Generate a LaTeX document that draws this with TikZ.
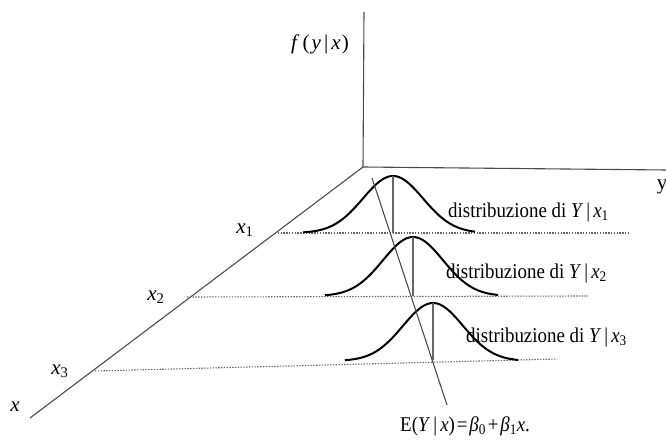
\documentclass[tikz,border=0pt]{standalone}
\usepackage{graphicx}
\usepackage{fontspec}
\setmainfont{Liberation Serif}
\newcommand{\narrowtxt}[1]{\scalebox{0.9}[1]{#1}}
\begin{document}
\begin{tikzpicture}[x=1pt,y=-1pt,
  axis/.style={draw=black!70,line width=1.1pt},
  guide/.style={draw=black!60,line width=1.1pt,dash pattern=on 1.4pt off 1.4pt},
  bell/.style={draw=black,line width=2pt},
  mean/.style={draw=black!60,line width=1.1pt},
  lbl/.style={inner sep=0pt,font=\fontsize{21}{24}\selectfont},
  ]
\useasboundingbox (0,0) rectangle (666,443);
% axes
\coordinate (O) at (363,167);
\coordinate (ztop) at (364,12);
\coordinate (yend) at (666,170);
\coordinate (xend) at (30,418);
\draw[axis] (ztop) -- (O) -- (yend);
\draw[axis] (O) -- (xend);
% guide lines
\coordinate (g1a) at (275,233); \coordinate (g1b) at (628,233);
\coordinate (g2a) at (187,297); \coordinate (g2b) at (588,296);
\coordinate (g3a) at (95,371);  \coordinate (g3b) at (557,359);
\draw[guide] (g1a) -- (g1b);
\draw[guide] (g2a) -- (g2b);
\draw[guide] (g3a) -- (g3b);
% bells
\draw[bell] plot[domain=-90:82,samples=80,smooth] ({393+\x},{233-57*exp(-\x*\x/(2*30*30))});
\draw[bell] plot[domain=-88:85,samples=80,smooth] ({413+\x},{296-59*exp(-\x*\x/(2*30*30))});
\draw[bell] plot[domain=-88:85,samples=80,smooth] ({433+\x},{361-58*exp(-\x*\x/(2*30*30))});
% mean verticals
\coordinate (p1) at (393,176); \coordinate (b1) at (393,233);
\coordinate (p2) at (413,237); \coordinate (b2) at (413,296);
\coordinate (p3) at (433,303); \coordinate (b3) at (433,360);
\draw[mean] (p1) -- (b1);
\draw[mean] (p2) -- (b2);
\draw[mean] (p3) -- (b3);
% regression line
\coordinate (r1) at (372,178);
\coordinate (r2) at (447,405);
\draw[mean,draw=black!70] (r1) -- (r2);
% labels
\node[lbl] (fl) at (320,44) {\textit{f}\hspace{0.15em}(\hspace{0.1em}\textit{y}\hspace{0.15em}|\hspace{0.15em}\textit{x}\hspace{0.05em})};
\node[lbl] (yl) at (662,187) {y};
\node[lbl] (xl) at (15,407) {\textit{x}};
\node[lbl] (x1) at (245,230) {\textit{x}\textsubscript{1}};
\node[lbl] (x2) at (156,297) {\textit{x}\textsubscript{2}};
\node[lbl] (x3) at (60,371) {\textit{x}\textsubscript{3}};
\node[lbl,anchor=west] (d1) at (448,212) {\narrowtxt{distribuzione di \textit{Y}\,|\,\textit{x}\textsubscript{1}}};
\node[lbl,anchor=west] (d2) at (446,273) {\narrowtxt{distribuzione di \textit{Y}\,|\,\textit{x}\textsubscript{2}}};
\node[lbl,anchor=west] (d3) at (466,337) {\narrowtxt{distribuzione di \textit{Y}\,|\,\textit{x}\textsubscript{3}}};
\node[lbl,anchor=west] (eq) at (400,426) {\narrowtxt{E(\textit{Y}\,|\,\textit{x})\hspace{0.1em}=\hspace{0.1em}\textit{β}\textsubscript{0}\hspace{0.1em}+\hspace{0.1em}\textit{β}\textsubscript{1}\textit{x}.}};
\end{tikzpicture}
\end{document}
